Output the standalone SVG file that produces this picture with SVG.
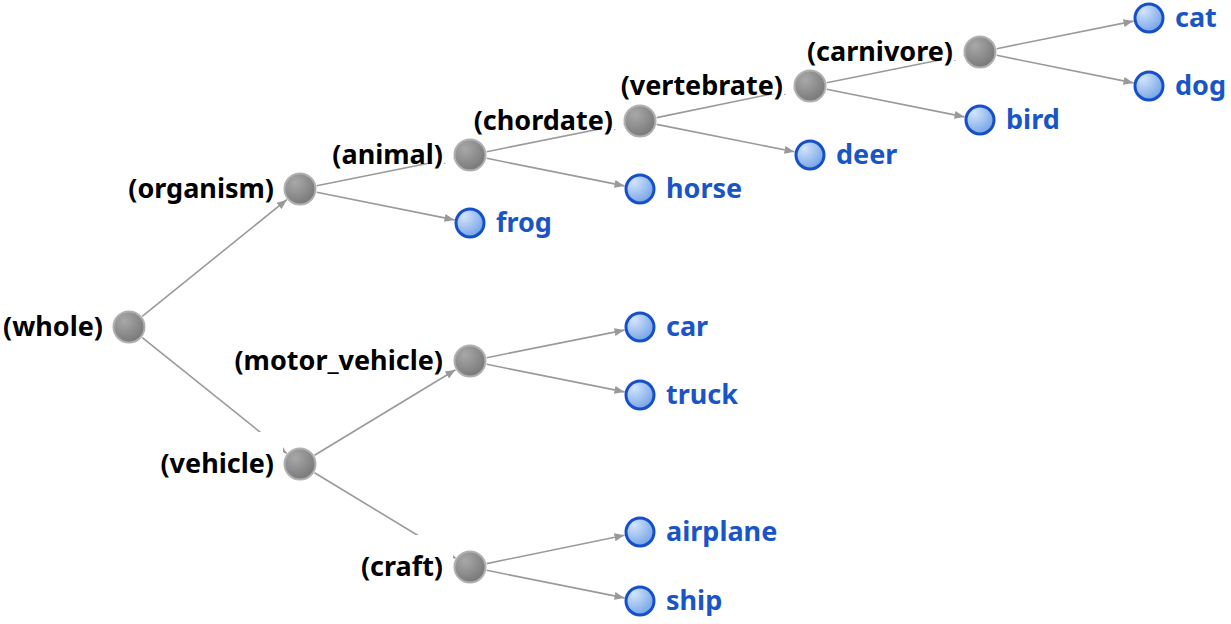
<svg xmlns="http://www.w3.org/2000/svg" width="1231" height="624" viewBox="0 0 1231 624">
<defs>
<radialGradient id="gg" cx="0.35" cy="0.3" r="0.8">
<stop offset="0" stop-color="#a8a8a8"/><stop offset="1" stop-color="#747474"/>
</radialGradient>
<radialGradient id="bg" cx="0.3" cy="0.25" r="0.85">
<stop offset="0" stop-color="#d2e4fb"/><stop offset="1" stop-color="#6f9fe6"/>
</radialGradient>
<marker id="ah" viewBox="0 0 10 8" refX="10" refY="4" markerWidth="10" markerHeight="8" markerUnits="userSpaceOnUse" orient="auto">
<path d="M0,0 L10,4 L0,8 Z" fill="#999"/>
</marker>
<style>
.e{stroke:#9a9a9a;stroke-width:1.6;fill:none;marker-end:url(#ah)}
.g circle{fill:url(#gg);stroke:#b0b0b0;stroke-width:2}
.b circle{fill:url(#bg);stroke:#1650c8;stroke-width:3}
.m{fill:#fff}
.gl{font-family:"Noto Sans","Open Sans",sans-serif;font-weight:bold;font-size:27px;fill:#000;text-anchor:end}
.bl{font-family:"Noto Sans","Open Sans",sans-serif;font-weight:bold;font-size:27px;fill:#1a55c6}
</style>
</defs>
<rect width="1231" height="624" fill="#fff"/>
<g id="connectors">
<line class="e" x1="142.2" y1="316.3" x2="286.8" y2="199.7"/>
<line class="e" x1="142.3" y1="337.6" x2="286.7" y2="453.4"/>
<line class="e" x1="316.7" y1="185.7" x2="453.3" y2="158.3"/>
<line class="e" x1="316.7" y1="192.3" x2="454.5" y2="219.9"/>
<line class="e" x1="314.5" y1="455.2" x2="455.5" y2="369.8"/>
<line class="e" x1="314.5" y1="472.8" x2="455.5" y2="558.2"/>
<line class="e" x1="486.7" y1="151.7" x2="623.3" y2="124.3"/>
<line class="e" x1="486.7" y1="158.3" x2="624.5" y2="185.9"/>
<line class="e" x1="486.7" y1="357.7" x2="624.5" y2="330.1"/>
<line class="e" x1="486.7" y1="364.3" x2="624.5" y2="391.9"/>
<line class="e" x1="486.7" y1="563.6" x2="624.5" y2="535.2"/>
<line class="e" x1="486.7" y1="570.3" x2="624.5" y2="597.9"/>
<line class="e" x1="656.7" y1="117.6" x2="793.3" y2="89.4"/>
<line class="e" x1="656.7" y1="124.4" x2="794.5" y2="151.8"/>
<line class="e" x1="826.7" y1="82.7" x2="963.3" y2="55.3"/>
<line class="e" x1="826.7" y1="89.3" x2="964.5" y2="116.9"/>
<line class="e" x1="996.7" y1="48.7" x2="1133.5" y2="21.1"/>
<line class="e" x1="996.7" y1="55.3" x2="1133.5" y2="82.9"/>
</g>
<g id="masks">
<rect class="m" x="0" y="295" width="112" height="40"/>
<rect class="m" x="110" y="157" width="173" height="40"/>
<rect class="m" x="145" y="432" width="138" height="40"/>
<rect class="m" x="318" y="123" width="135" height="40"/>
<rect class="m" x="215" y="329" width="238" height="40"/>
<rect class="m" x="346" y="535" width="107" height="40"/>
<rect class="m" x="459" y="89" width="164" height="40"/>
<rect class="m" x="605" y="54" width="188" height="40"/>
<rect class="m" x="790" y="20" width="173" height="40"/>
</g>
<g id="n-whole" class="g"><circle cx="129" cy="327" r="15.5"/><text class="gl" x="103" y="336">(whole)</text></g>
<g id="n-organism" class="g"><circle cx="300" cy="189" r="15.5"/><text class="gl" x="274" y="198">(organism)</text></g>
<g id="n-vehicle" class="g"><circle cx="300" cy="464" r="15.5"/><text class="gl" x="274" y="473">(vehicle)</text></g>
<g id="n-animal" class="g"><circle cx="470" cy="155" r="15.5"/><text class="gl" x="443" y="164">(animal)</text></g>
<g id="n-motor_vehicle" class="g"><circle cx="470" cy="361" r="15.5"/><text class="gl" x="443" y="370">(motor_vehicle)</text></g>
<g id="n-craft" class="g"><circle cx="470" cy="567" r="15.5"/><text class="gl" x="443" y="576">(craft)</text></g>
<g id="n-chordate" class="g"><circle cx="640" cy="121" r="15.5"/><text class="gl" x="613" y="130">(chordate)</text></g>
<g id="n-vertebrate" class="g"><circle cx="810" cy="86" r="15.5"/><text class="gl" x="783" y="95">(vertebrate)</text></g>
<g id="n-carnivore" class="g"><circle cx="980" cy="52" r="15.5"/><text class="gl" x="953" y="61">(carnivore)</text></g>
<g id="n-frog" class="b"><circle cx="470" cy="223" r="14"/><text class="bl" x="496" y="232">frog</text></g>
<g id="n-horse" class="b"><circle cx="640" cy="189" r="14"/><text class="bl" x="666" y="198">horse</text></g>
<g id="n-car" class="b"><circle cx="640" cy="327" r="14"/><text class="bl" x="666" y="336">car</text></g>
<g id="n-truck" class="b"><circle cx="640" cy="395" r="14"/><text class="bl" x="666" y="404">truck</text></g>
<g id="n-airplane" class="b"><circle cx="640" cy="532" r="14"/><text class="bl" x="666" y="541">airplane</text></g>
<g id="n-ship" class="b"><circle cx="640" cy="601" r="14"/><text class="bl" x="666" y="610">ship</text></g>
<g id="n-deer" class="b"><circle cx="810" cy="155" r="14"/><text class="bl" x="836" y="164">deer</text></g>
<g id="n-bird" class="b"><circle cx="980" cy="120" r="14"/><text class="bl" x="1006" y="129">bird</text></g>
<g id="n-cat" class="b"><circle cx="1149" cy="18" r="14"/><text class="bl" x="1175" y="27">cat</text></g>
<g id="n-dog" class="b"><circle cx="1149" cy="86" r="14"/><text class="bl" x="1175" y="95">dog</text></g>
</svg>
